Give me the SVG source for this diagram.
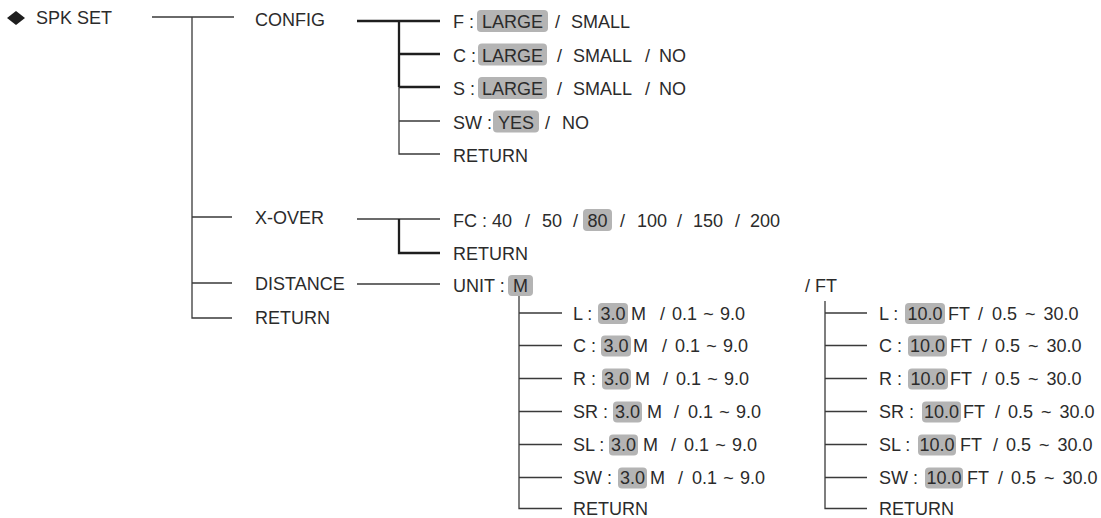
<svg xmlns="http://www.w3.org/2000/svg" width="1101" height="518" viewBox="0 0 1101 518">
<style>
text{font-family:"Liberation Sans",Arial,Helvetica,sans-serif;font-size:18px;fill:#2b2b2b}
.c{text-anchor:middle}
.hl{fill:#b4b4b4;rx:4px;ry:4px}
.thin{stroke:#3a3a3a;stroke-width:1.3;fill:none}
.thick{stroke:#1e1e1e;stroke-width:2.3;fill:none}
.rm{word-spacing:1.2px}
.rf{word-spacing:3px}
</style>
<rect width="1101" height="518" fill="#ffffff"/>
<g id="connectors">
<path class="thin" d="M152 17H234M192 17V318H232M192 217H232M192 283H232"/>
<path class="thick" d="M357 21H440M399 21V87M399 54H440M399 87H440"/>
<path class="thin" d="M399 87V154H440M399 121H440"/>
<path class="thin" d="M357 219H440"/>
<path class="thick" d="M399 219V253H440"/>
<path class="thin" d="M357 284H440"/>
<path class="thin" d="M519 296V508.5H562M519 313H562M519 345.5H562M519 378.5H562M519 411.5H562M519 444.5H562M519 477.5H562"/>
<path class="thin" d="M825 301V508.5H867M825 313H867M825 345.5H867M825 378.5H867M825 411.5H867M825 444.5H867M825 477.5H867"/>
</g>
<g id="spk-set">
<polygon points="7,18 16,11 25,18 16,25" fill="#1e1e1e"/>
<text x="36" y="24">SPK SET</text>
</g>
<g id="config"><text x="255" y="26">CONFIG</text></g>
<g id="config-f">
<text x="453" y="27.5">F :</text>
<rect class="hl" x="477" y="10" width="71" height="22"/>
<text class="c" x="512.5" y="27.5">LARGE</text>
<text x="555" y="27.5">/</text>
<text x="571" y="27.5">SMALL</text>
</g>
<g id="config-c">
<text x="453" y="61.5">C :</text>
<rect class="hl" x="478" y="43.5" width="69" height="22"/>
<text class="c" x="512.5" y="61.5">LARGE</text>
<text x="557" y="61.5">/</text>
<text x="573" y="61.5">SMALL</text>
<text x="645" y="61.5">/</text>
<text x="659" y="61.5">NO</text>
</g>
<g id="config-s">
<text x="453" y="95">S :</text>
<rect class="hl" x="478" y="77" width="69" height="22"/>
<text class="c" x="512.5" y="95">LARGE</text>
<text x="557" y="95">/</text>
<text x="573" y="95">SMALL</text>
<text x="645" y="95">/</text>
<text x="659" y="95">NO</text>
</g>
<g id="config-sw">
<text x="453" y="128.5">SW :</text>
<rect class="hl" x="493" y="110.5" width="46" height="22"/>
<text class="c" x="516" y="128.5">YES</text>
<text x="545" y="128.5">/</text>
<text x="562" y="128.5">NO</text>
</g>
<g id="config-return"><text x="453" y="162">RETURN</text></g>
<g id="x-over"><text x="255" y="224">X-OVER</text></g>
<g id="xover-fc">
<text x="453" y="226.5">FC : 40</text>
<text x="525" y="226.5">/</text>
<text x="542" y="226.5">50</text>
<text x="573" y="226.5">/</text>
<rect class="hl" x="583" y="209" width="29" height="22"/>
<text class="c" x="597.5" y="226.5">80</text>
<text x="620" y="226.5">/</text>
<text x="637" y="226.5">100</text>
<text x="677" y="226.5">/</text>
<text x="693" y="226.5">150</text>
<text x="735" y="226.5">/</text>
<text x="750" y="226.5">200</text>
</g>
<g id="xover-return"><text x="453" y="259.5">RETURN</text></g>
<g id="distance"><text x="255" y="290">DISTANCE</text></g>
<g id="return"><text x="255" y="323.5">RETURN</text></g>
<g id="unit">
<text x="453" y="291.5">UNIT :</text>
<rect class="hl" x="508" y="275" width="25" height="21"/>
<text class="c" x="520.5" y="291.5">M</text>
</g>
<g id="unit-ft"><text x="805" y="291.5">/ FT</text></g>
<g id="m-l">
<text x="573" y="319.5">L :</text>
<rect class="hl" x="598" y="303" width="30" height="21"/>
<text class="c" x="613" y="319.5">3.0</text>
<text x="631" y="319.5">M</text>
<text x="660" y="319.5">/</text>
<text class="rm" x="672" y="319.5">0.1 ~ 9.0</text>
</g>
<g id="m-c">
<text x="573" y="352">C :</text>
<rect class="hl" x="601" y="335.5" width="30" height="21"/>
<text class="c" x="616" y="352">3.0</text>
<text x="633" y="352">M</text>
<text x="662" y="352">/</text>
<text class="rm" x="675" y="352">0.1 ~ 9.0</text>
</g>
<g id="m-r">
<text x="573" y="385">R :</text>
<rect class="hl" x="602" y="368.5" width="29" height="21"/>
<text class="c" x="616.5" y="385">3.0</text>
<text x="635" y="385">M</text>
<text x="663" y="385">/</text>
<text class="rm" x="676" y="385">0.1 ~ 9.0</text>
</g>
<g id="m-sr">
<text x="573" y="418">SR :</text>
<rect class="hl" x="613" y="401.5" width="29" height="21"/>
<text class="c" x="627.5" y="418">3.0</text>
<text x="647" y="418">M</text>
<text x="674" y="418">/</text>
<text class="rm" x="688" y="418">0.1 ~ 9.0</text>
</g>
<g id="m-sl">
<text x="573" y="451">SL :</text>
<rect class="hl" x="609" y="434.5" width="29" height="21"/>
<text class="c" x="623.5" y="451">3.0</text>
<text x="643" y="451">M</text>
<text x="671" y="451">/</text>
<text class="rm" x="684" y="451">0.1 ~ 9.0</text>
</g>
<g id="m-sw">
<text x="573" y="484">SW :</text>
<rect class="hl" x="618" y="467.5" width="29" height="21"/>
<text class="c" x="632.5" y="484">3.0</text>
<text x="650" y="484">M</text>
<text x="678" y="484">/</text>
<text class="rm" x="692" y="484">0.1 ~ 9.0</text>
</g>
<g id="m-return"><text x="573" y="515">RETURN</text></g>
<g id="ft-l">
<text x="879" y="319.5">L :</text>
<rect class="hl" x="905" y="303" width="40" height="21"/>
<text class="c" x="925" y="319.5">10.0</text>
<text x="948" y="319.5">FT</text>
<text x="978" y="319.5">/</text>
<text class="rf" x="992" y="319.5">0.5 ~ 30.0</text>
</g>
<g id="ft-c">
<text x="879" y="352">C :</text>
<rect class="hl" x="908" y="335.5" width="39" height="21"/>
<text class="c" x="927.5" y="352">10.0</text>
<text x="950" y="352">FT</text>
<text x="982" y="352">/</text>
<text class="rf" x="995" y="352">0.5 ~ 30.0</text>
</g>
<g id="ft-r">
<text x="879" y="385">R :</text>
<rect class="hl" x="908" y="368.5" width="40" height="21"/>
<text class="c" x="928" y="385">10.0</text>
<text x="950" y="385">FT</text>
<text x="982" y="385">/</text>
<text class="rf" x="995" y="385">0.5 ~ 30.0</text>
</g>
<g id="ft-sr">
<text x="879" y="418">SR :</text>
<rect class="hl" x="922" y="401.5" width="39" height="21"/>
<text class="c" x="941.5" y="418">10.0</text>
<text x="963" y="418">FT</text>
<text x="995" y="418">/</text>
<text class="rf" x="1008" y="418">0.5 ~ 30.0</text>
</g>
<g id="ft-sl">
<text x="879" y="451">SL :</text>
<rect class="hl" x="918" y="434.5" width="38" height="21"/>
<text class="c" x="937" y="451">10.0</text>
<text x="960" y="451">FT</text>
<text x="993" y="451">/</text>
<text class="rf" x="1006" y="451">0.5 ~ 30.0</text>
</g>
<g id="ft-sw">
<text x="879" y="484">SW :</text>
<rect class="hl" x="925" y="467.5" width="38" height="21"/>
<text class="c" x="944" y="484">10.0</text>
<text x="967" y="484">FT</text>
<text x="998" y="484">/</text>
<text class="rf" x="1011" y="484">0.5 ~ 30.0</text>
</g>
<g id="ft-return"><text x="879" y="515">RETURN</text></g>
</svg>
